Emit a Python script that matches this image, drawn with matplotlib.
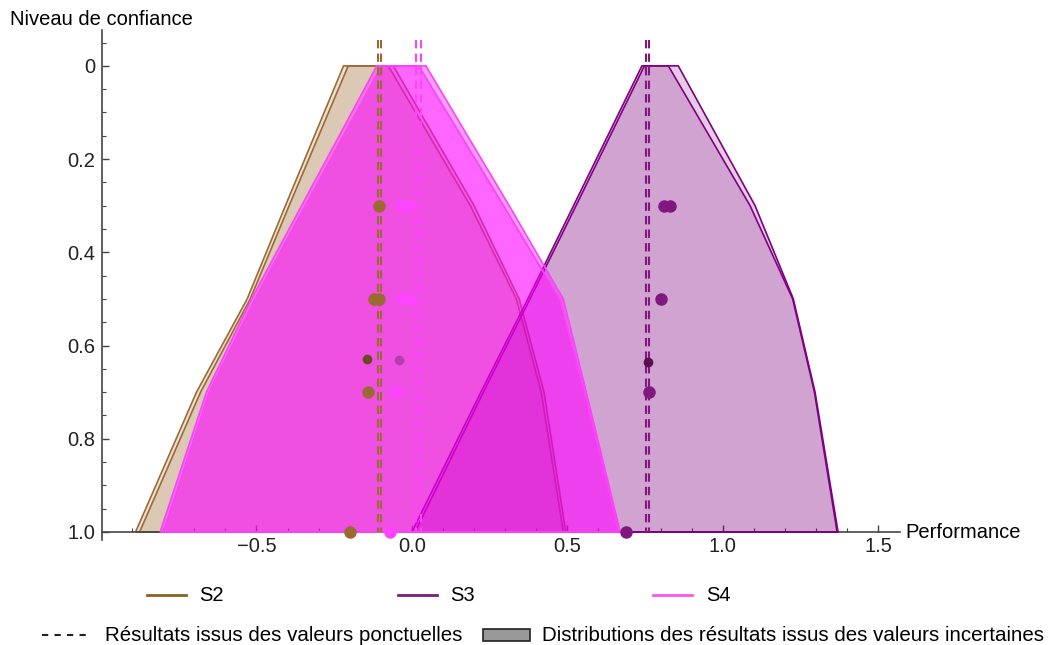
import matplotlib
matplotlib.use("Agg")
import matplotlib.pyplot as plt
from matplotlib.colors import to_rgba
from matplotlib.lines import Line2D
from matplotlib.patches import Rectangle
from matplotlib.ticker import FixedLocator, MultipleLocator

plt.rcParams["font.family"] = ["Liberation Sans", "DejaVu Sans"]

# confidence levels where the distributions have vertices
levels = [0.0, 0.3, 0.5, 0.7, 1.0]

# S2: two distributions (left / right bounds per level)
s2_left_a = [-0.220, -0.407, -0.530, -0.693, -0.889]
s2_right_a = [-0.076, 0.188, 0.336, 0.416, 0.487]
s2_left_b = [-0.205, -0.395, -0.520, -0.680, -0.876]
s2_right_b = [-0.060, 0.200, 0.345, 0.425, 0.495]

# S3
s3_left_a = [0.740, 0.520, 0.373, 0.222, 0.000]
s3_right_a = [0.857, 1.104, 1.227, 1.297, 1.371]
s3_left_b = [0.748, 0.528, 0.380, 0.230, 0.010]
s3_right_b = [0.825, 1.088, 1.225, 1.295, 1.368]

# S4
s4_left_a = [-0.113, -0.355, -0.516, -0.661, -0.810]
s4_right_a = [0.045, 0.313, 0.487, 0.561, 0.670]
s4_left_b = [-0.098, -0.343, -0.505, -0.652, -0.800]
s4_right_b = [0.022, 0.295, 0.475, 0.555, 0.665]

# point results (dashed lines)
s2_point = [-0.108, -0.098]
s3_point = [0.752, 0.764]
s4_point = [0.012, 0.028]

# scattered results
s2_dots_x = [-0.107, -0.123, -0.105, -0.140, -0.200]
s2_dots_y = [0.3, 0.5, 0.5, 0.7, 1.0]
s3_dots_x = [0.812, 0.831, 0.802, 0.763, 0.690]
s3_dots_y = [0.3, 0.3, 0.5, 0.7, 1.0]
s4_dots_x = [-0.034, -0.008, -0.034, -0.008, -0.050, -0.069]
s4_dots_y = [0.3, 0.3, 0.5, 0.5, 0.7, 1.0]
mid_x = {"S2": -0.143, "S3": 0.760, "S4": -0.040}
mid_y = {"S2": 0.628, "S3": 0.635, "S4": 0.632}

series = [
    ("S2", "#9c6a35", 0.2, [(s2_left_a, s2_right_a), (s2_left_b, s2_right_b)],
     s2_point, s2_dots_x, s2_dots_y, "#9a6a30", "#6a4a20", "#87641f"),
    ("S3", "#800080", 0.2, [(s3_left_a, s3_right_a), (s3_left_b, s3_right_b)],
     s3_point, s3_dots_x, s3_dots_y, "#801880", "#5a1050", "#7d1a7d"),
    ("S4", "#ff00ff", 0.37, [(s4_left_a, s4_right_a), (s4_left_b, s4_right_b)],
     s4_point, s4_dots_x, s4_dots_y, "#ff44ff", "#b43cb4", "#ff55ee"),
]
edge_colors = {"S2": "#9c6a35", "S3": "#800080", "S4": "#ff40ff"}

fig = plt.figure(figsize=(10.55, 6.45), dpi=100)
ax = fig.add_axes([0.0967, 0.163, 0.756, 0.7905])

for i, (name, col, alpha, polys, pts, dx, dy, dcol, dark, lcol) in enumerate(series):
    z = 2 + i
    for left, right in polys:
        xs = list(left) + list(right[::-1])
        ys = list(levels) + list(levels[::-1])
        ax.fill(xs, ys, facecolor=to_rgba(col, alpha), edgecolor=edge_colors[name],
                linewidth=1.2, zorder=z)
    for x in pts:
        ax.plot([x, x], [-0.055, 1.0], color=dcol, linestyle=(0, (4, 2.5)),
                linewidth=1.5, zorder=6)
    ax.plot(dx, dy, "o", color=dcol, markersize=9, markeredgewidth=0, zorder=7)
    ax.plot([mid_x[name]], [mid_y[name]], "o", color=dark, markersize=7,
            markeredgewidth=0, zorder=7)

ax.set_xlim(-0.997, 1.569)
ax.set_ylim(1.017, -0.077)

ax.spines["top"].set_visible(False)
ax.spines["right"].set_visible(False)
ax.spines["bottom"].set_position(("data", 1.0))
for s in ("left", "bottom"):
    ax.spines[s].set_color("#444444")
    ax.spines[s].set_linewidth(1.2)

ax.xaxis.set_major_locator(FixedLocator([-0.5, 0.0, 0.5, 1.0, 1.5]))
ax.set_xticklabels(["\u22120.5", "0.0", "0.5", "1.0", "1.5"])
ax.xaxis.set_minor_locator(MultipleLocator(0.1))
ax.yaxis.set_major_locator(FixedLocator([0, 0.2, 0.4, 0.6, 0.8, 1.0]))
ax.set_yticklabels(["0", "0.2", "0.4", "0.6", "0.8", "1.0"])
ax.yaxis.set_minor_locator(MultipleLocator(0.05))
ax.tick_params(which="both", direction="in", colors="#444444", labelcolor="#222222",
               labelsize=14.5)
ax.tick_params(axis="y", which="major", pad=5)
ax.tick_params(which="major", length=5, width=1)
ax.tick_params(which="minor", length=3, width=0.8)

fig.text(0.0095, 0.969, "Niveau de confiance", fontsize=14.5, va="center", ha="left")
fig.text(0.858, 0.175, "Performance", fontsize=14.5, va="center", ha="left")

# legend row 1
row1 = 0.0775
for (name, *_rest), x0 in zip(series, [0.139, 0.377, 0.619]):
    lcol = _rest[-1]
    fig.add_artist(Line2D([x0, x0 + 0.037], [row1, row1], color=lcol, linewidth=2))
    fig.text(x0 + 0.050, row1, name, fontsize=14.5, va="center", ha="left")

# legend row 2
row2 = 0.0155
fig.add_artist(Line2D([0.040, 0.087], [row2, row2], color="#222222", linewidth=1.5,
                      linestyle=(0, (3, 3))))
fig.text(0.0995, row2, "Résultats issus des valeurs ponctuelles", fontsize=14.8,
         va="center", ha="left")
fig.add_artist(Rectangle((0.458, row2 - 0.01), 0.044, 0.02, transform=fig.transFigure,
                         facecolor="#999999", edgecolor="#222222", linewidth=1.2))
fig.text(0.514, row2, "Distributions des résultats issus des valeurs incertaines",
         fontsize=14.8, va="center", ha="left")

fig.savefig("out.png", dpi=100)
